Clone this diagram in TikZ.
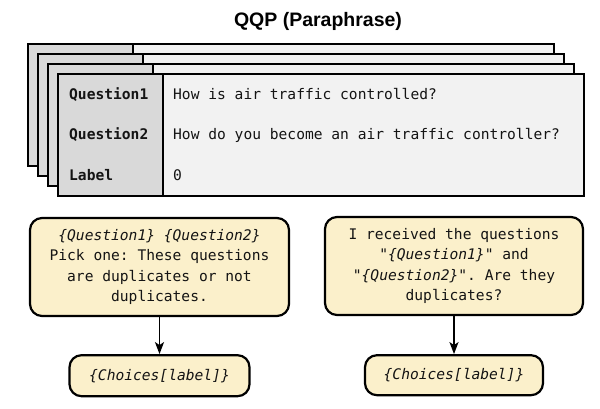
\documentclass[tikz,border=0pt]{standalone}
\usepackage{fontspec}
\setmainfont{Liberation Sans}
\setmonofont{DejaVu Sans Mono}
\usetikzlibrary{arrows.meta, positioning, calc}
\definecolor{keygray}{HTML}{D9D9D9}
\definecolor{sheetlight}{HTML}{F2F2F2}
\definecolor{promptfill}{HTML}{FBF0CB}
\definecolor{darktext}{HTML}{141414}

\begin{document}
\begin{tikzpicture}[
    x=1pt, y=-1pt,
    sheet/.style={draw=black, line width=1.8pt, fill=sheetlight},
    keycol/.style={draw=black, line width=1.8pt, fill=keygray},
    field/.style={anchor=west, inner sep=0pt, text height=11pt, text depth=3pt,
                  text=darktext, font=\ttfamily\bfseries\fontsize{14.6}{17}\selectfont},
    value/.style={field, font=\ttfamily\fontsize{14.6}{17}\selectfont},
    prompt/.style={draw=black, line width=2.2pt, fill=promptfill, rounded corners=12pt,
                   align=center, inner sep=0pt, text=darktext,
                   font=\ttfamily\fontsize{14.6}{20.5}\selectfont},
    arrow/.style={-{Stealth[length=12pt, width=9pt, inset=3pt]}, line width=1.8pt}
]
\useasboundingbox (0,0) rectangle (600,409);

% title
\node[anchor=base, font=\bfseries\fontsize{19.5}{23}\selectfont] (title) at (318,27) {QQP (Paraphrase)};

% stack of example sheets, front one last
\foreach \i in {0,...,3} {
    \draw[sheet] ({28+10*\i},{44+10*\i}) rectangle ({554+10*\i},{166+10*\i});
    \draw[keycol] ({28+10*\i},{44+10*\i}) rectangle ({133+10*\i},{166+10*\i});
}

% rows of the front sheet
\node[field] (q1key) at (69,96) {Question1};
\node[field] (q2key) at (69,136) {Question2};
\node[field] (labkey) at (69,176) {Label};
\node[value] (q1val) at (173,96) {How is air traffic controlled?};
\node[value] (q2val) at (173,136) {How do you become an air traffic controller?};
\node[value] (labval) at (173,176) {0};

% prompt templates
\node[prompt, minimum width=259pt, minimum height=98pt] (promptA) at (159.5,267)
    {\textit{\{Question1\}} \textit{\{Question2\}}\\Pick one: These questions\\are duplicates or not\\duplicates.};
\node[prompt, minimum width=180pt, minimum height=41pt, below=37pt of promptA] (choiceA)
    {\textit{\{Choices[label]\}}};

\node[prompt, minimum width=258pt, minimum height=98pt] (promptB) at (454,266)
    {I received the questions\\"\textit{\{Question1\}}" and\\"\textit{\{Question2\}}". Are they\\duplicates?};
\node[prompt, minimum width=178pt, minimum height=40pt, below=38pt of promptB] (choiceB)
    {\textit{\{Choices[label]\}}};

\draw[arrow] (promptA) -- (choiceA);
\draw[arrow] (promptB) -- (choiceB);

\end{tikzpicture}
\end{document}
